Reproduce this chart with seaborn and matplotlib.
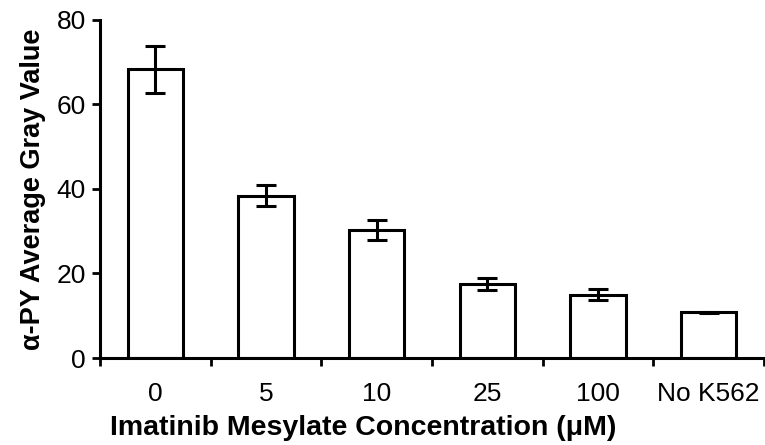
import numpy as np
import pandas as pd
import seaborn as sns
import matplotlib.pyplot as plt

# valori
concentrations = ['0', '5', '10', '25', '100', 'No K562']
gray_values = [68.3, 38.4, 30.3, 17.6, 15.0, 10.8]
errors = [5.5, 2.5, 2.4, 1.4, 1.3, 0.2]

sns.set_style('ticks')
plt.rcParams['font.family'] = ['Liberation Sans', 'DejaVu Sans']
plt.rcParams['text.color'] = 'black'
plt.rcParams['axes.labelcolor'] = 'black'
plt.rcParams['xtick.color'] = 'black'
plt.rcParams['ytick.color'] = 'black'
plt.rcParams['axes.edgecolor'] = 'black'

df = pd.DataFrame({'conc': concentrations, 'value': gray_values})

fig = plt.figure(figsize=(7.65, 4.45), dpi=100)
ax = fig.add_axes([0.1307, 0.1955, 0.868, 0.7596])

sns.barplot(x='conc', y='value', data=df, ax=ax, color='white',
            edgecolor='black', linewidth=2.2, width=0.5, errorbar=None)
ax.errorbar(np.arange(len(concentrations)), gray_values, yerr=errors,
            fmt='none', ecolor='black', elinewidth=2.2, capsize=7, capthick=2.2)

ax.set_ylim(0, 80)
ax.set_xlim(-0.5, len(concentrations) - 0.5)
ax.set_yticks([0, 20, 40, 60, 80])

# tacche tra le categorie, etichette al centro
ax.set_xticks(np.arange(len(concentrations) + 1) - 0.5)
ax.set_xticklabels([])
ax.set_xticks(np.arange(len(concentrations)), minor=True)
ax.set_xticklabels(concentrations, minor=True)
ax.tick_params(axis='x', which='major', length=6, width=2, direction='out')
ax.tick_params(axis='x', which='minor', length=0, pad=17, labelsize=19)
ax.tick_params(axis='y', length=6, width=2, direction='out', labelsize=19, pad=4)

for side in ['top', 'right']:
    ax.spines[side].set_visible(False)
for side in ['left', 'bottom']:
    ax.spines[side].set_linewidth(2.2)

ax.set_xlabel('Imatinib Mesylate Concentration (μM)', fontsize=20.5, fontweight='bold', va='center')
ax.xaxis.set_label_coords(0.396, -0.207)
ax.set_ylabel('α-PY Average Gray Value', fontsize=19.5, fontweight='bold', labelpad=8)

plt.savefig('out.png', dpi=100)
plt.close()
